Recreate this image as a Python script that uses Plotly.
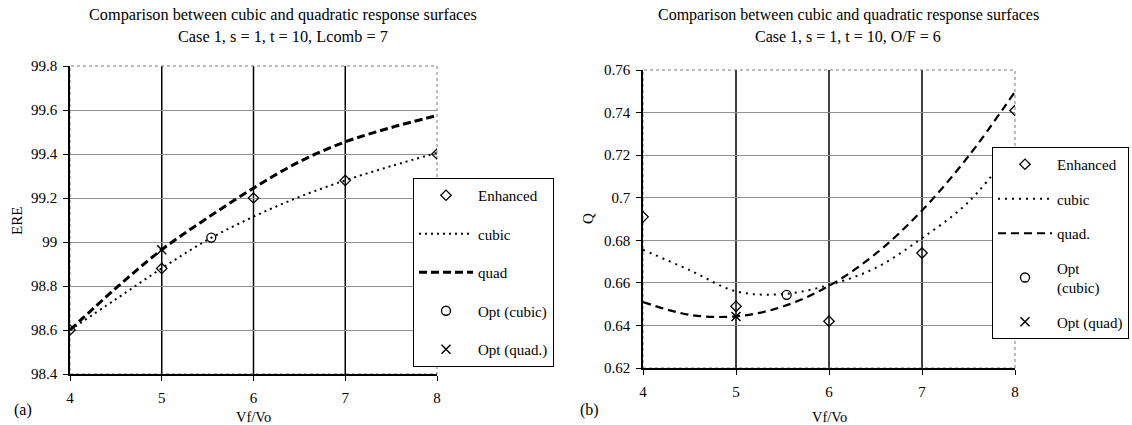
import plotly.graph_objects as go

# ---------------- data ----------------
x_ticks = [4, 5, 6, 7, 8]
x_enh = [4, 5, 6, 7, 8]
x_fit = [4, 4.5, 5, 5.5, 6, 6.5, 7, 7.5, 8]

# panel (a): ERE
a_enhanced = [98.60, 98.88, 99.20, 99.28, 99.40]
a_cubic = [98.60, 98.74, 98.88, 99.01, 99.115, 99.205, 99.28, 99.345, 99.405]
a_quad = [98.60, 98.79, 98.965, 99.11, 99.245, 99.365, 99.455, 99.52, 99.575]
a_opt_cubic_x = [5.54]
a_opt_cubic_y = [99.02]
a_opt_quad_x = [5.0]
a_opt_quad_y = [98.965]
a_yticks = [98.4, 98.6, 98.8, 99.0, 99.2, 99.4, 99.6, 99.8]
a_ytext = ["98.4", "98.6", "98.8", "99", "99.2", "99.4", "99.6", "99.8"]

# panel (b): Q
b_enhanced = [0.691, 0.649, 0.642, 0.674, 0.741]
b_cubic = [0.6755, 0.666, 0.656, 0.6547, 0.659, 0.667, 0.681, 0.698, 0.7245]
b_quad = [0.651, 0.645, 0.6443, 0.6488, 0.6586, 0.6736, 0.694, 0.7195, 0.7498]
b_opt_cubic_x = [5.545]
b_opt_cubic_y = [0.6544]
b_opt_quad_x = [5.0]
b_opt_quad_y = [0.6442]
b_yticks = [0.62, 0.64, 0.66, 0.68, 0.70, 0.72, 0.74, 0.76]
b_ytext = ["0.62", "0.64", "0.66", "0.68", "0.7", "0.72", "0.74", "0.76"]

title_line1 = "Comparison between cubic and quadratic response surfaces"
a_title_line2 = "Case 1, s = 1, t = 10, Lcomb = 7"
b_title_line2 = "Case 1, s = 1, t = 10, O/F = 6"

FONT = "Liberation Serif"
W, H = 1132, 425

fig = go.Figure()

def add_panel(xa, ya, leg, enh, cub, quad, ocx, ocy, oqx, oqy, names, qstyle, cstyle):
    fig.add_trace(go.Scatter(x=x_enh, y=enh, mode="markers", name=names[0],
                             marker=dict(symbol="diamond-open", size=8, color="black",
                                         line=dict(width=1.3, color="black")),
                             xaxis=xa, yaxis=ya, legend=leg, legendgroup=leg + "1"))
    fig.add_trace(go.Scatter(x=x_fit, y=cub, mode="lines", name=names[1],
                             line=dict(color="black", shape="spline", **cstyle),
                             xaxis=xa, yaxis=ya, legend=leg, legendgroup=leg + "2"))
    fig.add_trace(go.Scatter(x=x_fit, y=quad, mode="lines", name=names[2],
                             line=dict(color="black", shape="spline", **qstyle),
                             xaxis=xa, yaxis=ya, legend=leg, legendgroup=leg + "3"))
    fig.add_trace(go.Scatter(x=ocx, y=ocy, mode="markers", name=names[3],
                             marker=dict(symbol="circle-open", size=9, color="black",
                                         line=dict(width=1.3, color="black")),
                             xaxis=xa, yaxis=ya, legend=leg, legendgroup=leg + "4"))
    fig.add_trace(go.Scatter(x=oqx, y=oqy, mode="markers", name=names[4],
                             marker=dict(symbol="x-thin-open", size=9, color="black",
                                         line=dict(width=1.5, color="black")),
                             xaxis=xa, yaxis=ya, legend=leg, legendgroup=leg + "5"))

add_panel("x", "y", "legend", a_enhanced, a_cubic, a_quad,
          a_opt_cubic_x, a_opt_cubic_y, a_opt_quad_x, a_opt_quad_y,
          ["Enhanced", "cubic", "quad", "Opt (cubic)", "Opt (quad.)"],
          dict(width=3, dash="8px,4px"), dict(width=2, dash="2px,4px"))
add_panel("x2", "y2", "legend2", b_enhanced, b_cubic, b_quad,
          b_opt_cubic_x, b_opt_cubic_y, b_opt_quad_x, b_opt_quad_y,
          ["Enhanced", "cubic", "quad.", "Opt<br>(cubic)", "Opt (quad)"],
          dict(width=2.2, dash="8px,5px"), dict(width=2, dash="2px,5px"))

def px_x(p):
    return p / W

def px_y(p):
    return 1 - p / H

xcommon = dict(range=[4, 8], tickvals=x_ticks, ticktext=[str(v) for v in x_ticks],
               showgrid=False, zeroline=False, showline=True, linecolor="black",
               linewidth=1.5, ticks="outside", ticklen=5, tickcolor="black", tickwidth=1.2,
               ticklabelstandoff=4,
               tickfont=dict(family=FONT, size=15, color="black"))
ycommon = dict(showgrid=True, gridcolor="#8f8f8f", gridwidth=1, zeroline=False,
               showline=True, linecolor="black", linewidth=1.5, ticks="outside",
               ticklen=5, tickcolor="black", tickwidth=1.2, ticklabelstandoff=3,
               tickfont=dict(family=FONT, size=15, color="black"))

legcommon = dict(xanchor="left", yanchor="top", bgcolor="white", bordercolor="black",
                 borderwidth=1, font=dict(family=FONT, size=15, color="black"),
                 traceorder="grouped", itemwidth=54)

fig.update_layout(
    width=W, height=H,
    margin=dict(l=0, r=0, t=0, b=0, autoexpand=False),
    paper_bgcolor="white", plot_bgcolor="white",
    font=dict(family=FONT, color="black"),
    xaxis=dict(domain=[px_x(70), px_x(437)], anchor="y", **xcommon),
    yaxis=dict(domain=[px_y(374), px_y(66)], anchor="x", range=[98.4, 99.8],
               tickvals=a_yticks, ticktext=a_ytext, **ycommon),
    xaxis2=dict(domain=[px_x(643), px_x(1015)], anchor="y2", **xcommon),
    yaxis2=dict(domain=[px_y(368), px_y(70)], anchor="x2", range=[0.62, 0.76],
                tickvals=b_yticks, ticktext=b_ytext, **ycommon),
    legend=dict(x=px_x(413), y=px_y(178), tracegroupgap=16, **legcommon),
    legend2=dict(x=px_x(992), y=px_y(147), tracegroupgap=12, **legcommon),
    showlegend=True,
)

# internal vertical grid lines (black) at the inner ticks, and dotted top/right frame
for xa, ya in (("x", "y"), ("x2", "y2")):
    for v in x_ticks[1:-1]:
        fig.add_shape(type="line", xref=xa, yref=ya + " domain", x0=v, x1=v, y0=0, y1=1,
                      line=dict(color="black", width=1.5), layer="below")
    fig.add_shape(type="rect", xref=xa + " domain", yref=ya + " domain", x0=0, x1=1, y0=0, y1=1,
                  line=dict(color="#7a7a7a", width=1, dash="dot"), layer="below")

ann = []
def text(x, y, s, size=15, angle=0, yanchor="middle"):
    ann.append(dict(x=px_x(x), y=px_y(y), xref="paper", yref="paper", text=s,
                    showarrow=False, xanchor="center", yanchor=yanchor, textangle=angle,
                    font=dict(family=FONT, size=size, color="black")))

text(283, 15, title_line1, 16.3)
text(283, 37, a_title_line2, 16.3)
text(848, 15, title_line1, 16)
text(848, 37, b_title_line2, 16)
text(253, 407, "Vf/Vo", 14.5, yanchor="top")
text(829, 407, "Vf/Vo", 14.5, yanchor="top")
text(17, 221, "ERE", 15, -90)
text(588, 219, "Q", 15, -90)
text(23, 410, "(a)", 16)
text(589, 410, "(b)", 16)
fig.update_layout(annotations=ann)

fig.write_html("out.html")
